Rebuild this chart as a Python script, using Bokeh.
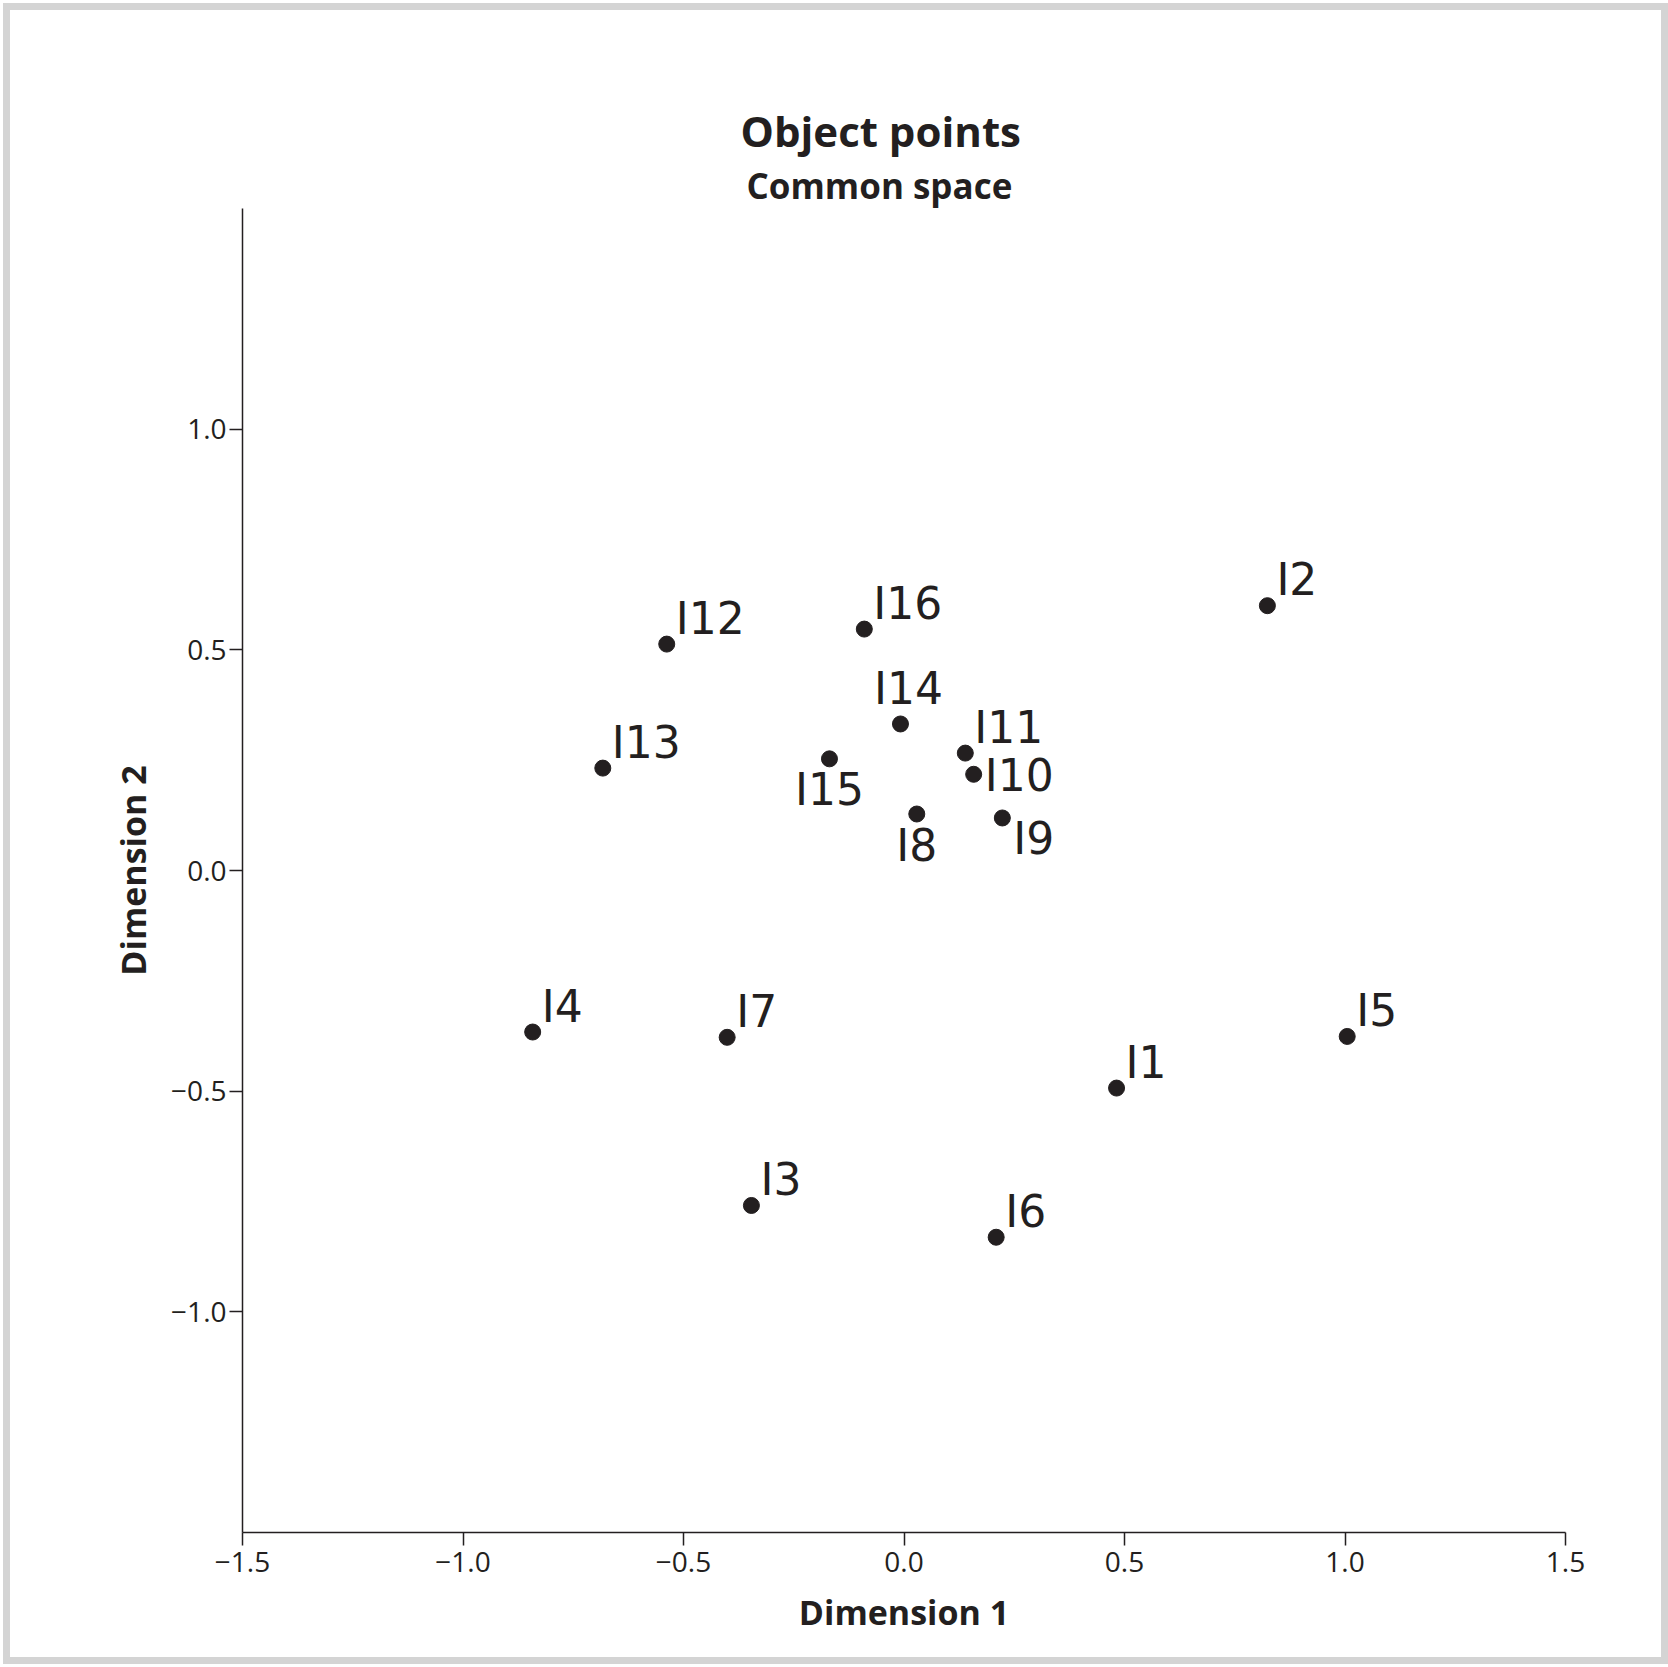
from bokeh.plotting import figure
from bokeh.models import Range1d, FixedTicker, Title, ColumnDataSource
from bokeh.core.properties import value
from bokeh.embed import file_html
from bokeh.resources import INLINE

# ---- data ----
labels = ["I1", "I2", "I3", "I4", "I5", "I6", "I7", "I8",
          "I9", "I10", "I11", "I12", "I13", "I14", "I15", "I16"]
dim1 = [0.482, 0.824, -0.346, -0.842, 1.005, 0.209, -0.401, 0.029,
        0.223, 0.158, 0.139, -0.538, -0.683, -0.008, -0.169, -0.090]
dim2 = [-0.493, 0.600, -0.759, -0.366, -0.376, -0.831, -0.378, 0.128,
        0.119, 0.218, 0.266, 0.513, 0.232, 0.332, 0.253, 0.547]

x_ticks = [-1.5, -1.0, -0.5, 0.0, 0.5, 1.0, 1.5]
y_ticks = [-1.0, -0.5, 0.0, 0.5, 1.0]

title_text = "Object points"
subtitle_text = "Common space"
x_title = "Dimension 1"
y_title = "Dimension 2"

# label placement around each point (style)
placement = {"I8": "s", "I9": "se", "I10": "e", "I14": "n", "I15": "s"}
place_style = {
    "ne": ("left", 9, -26),
    "n": ("center", 8, -35),
    "e": ("left", 11, 1),
    "s": ("center", 0, 31),
    "se": ("left", 11, 21),
}

INK = "#231f20"
W, H = 1651, 1647

p = figure(width=W, height=H, output_backend="svg", toolbar_location=None,
           x_range=Range1d(-1.5, 1.5), y_range=Range1d(-1.5, 1.5),
           min_border_left=232, min_border_right=110,
           min_border_top=198, min_border_bottom=139,
           background_fill_color="white", border_fill_color="white")
p.outline_line_color = None
p.grid.visible = False
p.styles = {"border": "7px solid #d4d4d4", "box-sizing": "content-box",
            "margin-left": "3px", "margin-top": "3px"}

def fmt(v):
    s = f"{abs(v):.1f}"
    return ("\u2212" + s) if v < 0 else s

for ax, ticks in ((p.xaxis[0], x_ticks), (p.yaxis[0], y_ticks)):
    ax.ticker = FixedTicker(ticks=ticks)
    ax.major_label_overrides = {t: fmt(t) for t in ticks}
    ax.minor_tick_line_color = None
    ax.major_tick_in = 0
    ax.major_tick_out = 13
    ax.major_tick_line_color = INK
    ax.major_tick_line_width = 1.5
    ax.axis_line_color = INK
    ax.axis_line_width = 1.5
    ax.major_label_text_font = "Open Sans"
    ax.major_label_text_font_size = "28px"
    ax.major_label_text_color = INK
    ax.axis_label_text_font = "Open Sans"
    ax.axis_label_text_font_size = "34px"
    ax.axis_label_text_font_style = "bold"
    ax.axis_label_text_color = INK

p.xaxis[0].axis_label = x_title
p.yaxis[0].axis_label = y_title
p.xaxis[0].major_label_standoff = 6
p.yaxis[0].major_label_standoff = 3
p.xaxis[0].axis_label_standoff = 14
p.yaxis[0].axis_label_standoff = 12

# titles: main title (outer), subtitle nearest the frame
p.title.text = title_text
p.title.align = "left"
p.title.offset = 498
p.title.standoff = 2
p.title.text_font = "Open Sans"
p.title.text_font_size = "42px"
p.title.text_font_style = "bold"
p.title.text_color = INK
p.add_layout(Title(text=subtitle_text, align="left", offset=504, standoff=0,
                   text_font="Open Sans", text_font_size="35px",
                   text_font_style="bold", text_color=INK), "above")

# points
src = ColumnDataSource(dict(x=dim1, y=dim2, name=labels))
p.scatter("x", "y", source=src, size=16, color=INK, line_color=INK)

# point labels grouped by placement
for key, (align, dx, dy) in place_style.items():
    idx = [i for i, n in enumerate(labels) if placement.get(n, "ne") == key]
    if not idx:
        continue
    s = ColumnDataSource(dict(x=[dim1[i] for i in idx], y=[dim2[i] for i in idx],
                              t=[labels[i] for i in idx]))
    p.text("x", "y", text="t", source=s, x_offset=dx, y_offset=dy,
           text_align=align, text_baseline="alphabetic",
           text_font=value("DejaVu Sans"), text_font_size="44px", text_color=INK)

open("out.html", "w").write(file_html(p, INLINE))
